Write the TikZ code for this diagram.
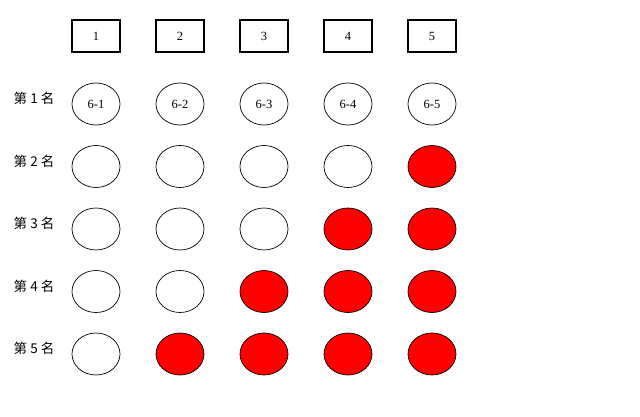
\documentclass[tikz,border=0pt]{standalone}
\usepackage{fontspec}
\setmainfont{Liberation Serif}
\newfontfamily\cjk{Noto Sans CJK SC}
\usetikzlibrary{shapes.geometric}
\begin{document}
\begin{tikzpicture}[x=1pt,y=-1pt,
    colbox/.style={draw, line width=1.2pt, minimum width=48pt, minimum height=32pt, inner sep=0pt, font=\fontsize{12.5}{14}\selectfont},
    seat/.style={draw, ellipse, line width=0.7pt, minimum width=48pt, minimum height=42pt, inner sep=0pt, font=\fontsize{12.5}{14}\selectfont},
    taken/.style={seat, fill=red},
    rank/.style={font=\cjk\fontsize{13.5}{15}\selectfont}]
    \useasboundingbox (0,0) rectangle (640,417);
    \foreach \c in {1, ..., 5} {
        \node[colbox] (col\c) at (\c*84+12, 36) {\c};
      }
    \foreach \r in {1, ..., 5} {
        \node[rank] (rank\r) at (34, \r*62.5+36) {第 \r\ 名};
        \foreach \c in {1, ..., 5} {
            \ifnum\r=1
              \node[seat] (seat\r\c) at (\c*84+12, \r*62.5+41.5) {6-\c};
            \else
              \pgfmathtruncatemacro{\sum}{\r+\c}
              \ifnum\sum>6
                \node[taken] (seat\r\c) at (\c*84+12, \r*62.5+41.5) {};
              \else
                \node[seat] (seat\r\c) at (\c*84+12, \r*62.5+41.5) {};
              \fi
            \fi
          }
      }
  \end{tikzpicture}
\end{document}
